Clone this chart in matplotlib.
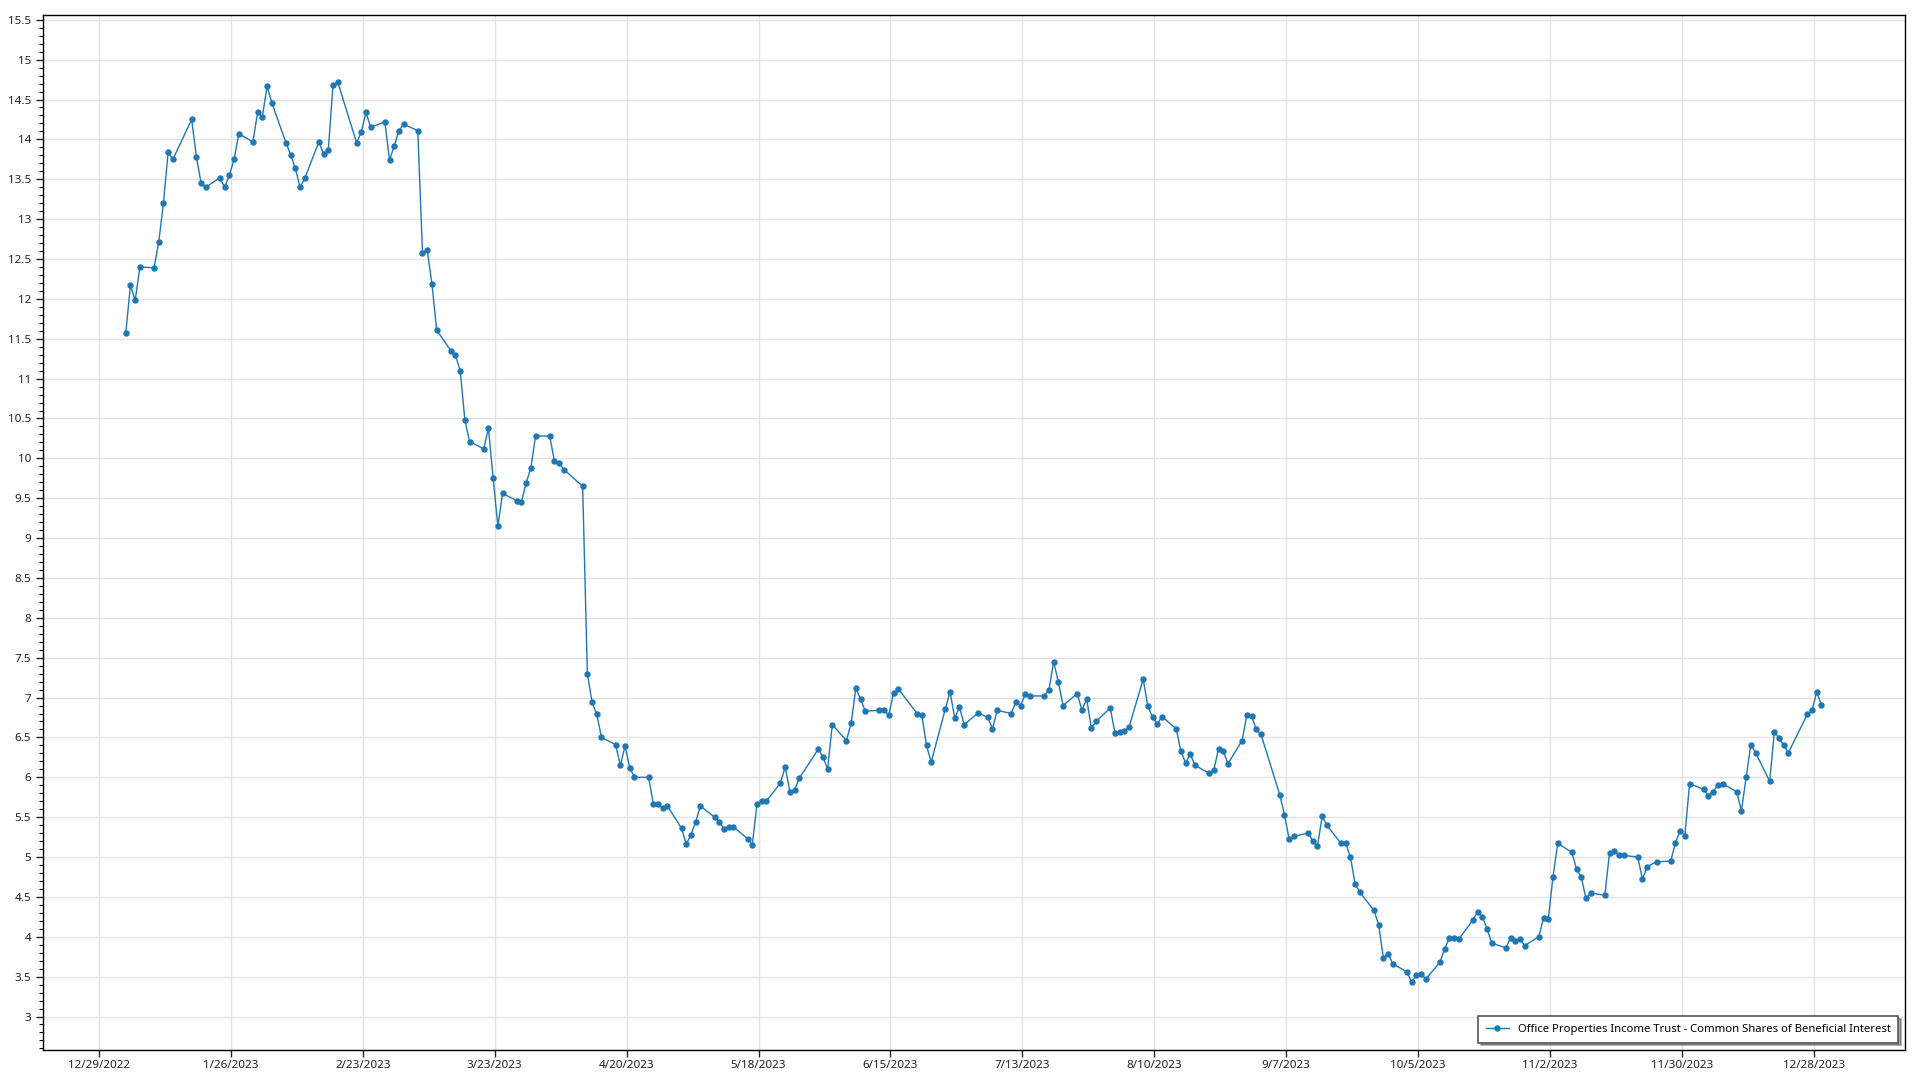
import numpy as np
import pandas as pd
import matplotlib
matplotlib.use("Agg")
import matplotlib.pyplot as plt
import matplotlib.dates as mdates
from matplotlib.ticker import MultipleLocator, FuncFormatter

# Закриття торгових днів 2023 року, по місяцях
jan = [11.57, 12.17, 11.98, 12.40, 12.39, 12.71, 13.20, 13.84, 13.75, 14.25,
       13.78, 13.45, 13.40, 13.52, 13.40, 13.55, 13.75, 14.07, 13.97, 14.34]
feb = [14.28, 14.67, 14.46, 13.96, 13.81, 13.64, 13.40, 13.51, 13.97, 13.82,
       13.87, 14.68, 14.72, 13.96, 14.09, 14.34, 14.15, 14.22, 13.74]
mar = [13.92, 14.11, 14.19, 14.11, 12.58, 12.61, 12.19, 11.61, 11.35, 11.29,
       11.10, 10.48, 10.21, 10.12, 10.38, 9.75, 9.15, 9.56, 9.47, 9.45,
       9.69, 9.88, 10.28]
apr = [10.28, 9.97, 9.94, 9.86, 9.65, 7.30, 6.94, 6.79, 6.50, 6.41,
       6.15, 6.39, 6.12, 6.00, 6.00, 5.67, 5.66, 5.62, 5.64]
may = [5.36, 5.16, 5.28, 5.44, 5.64, 5.50, 5.44, 5.35, 5.38, 5.38,
       5.23, 5.15, 5.66, 5.70, 5.70, 5.93, 6.13, 5.82, 5.84, 5.99,
       6.35, 6.26]
jun = [6.10, 6.66, 6.46, 6.68, 7.12, 6.98, 6.83, 6.84, 6.84, 6.78,
       7.06, 7.11, 6.80, 6.78, 6.40, 6.19, 6.86, 7.07, 6.74, 6.88, 6.66]
jul = [6.81, 6.75, 6.61, 6.84, 6.80, 6.95, 6.90, 7.05, 7.02, 7.02,
       7.10, 7.45, 7.19, 6.90, 7.05, 6.84, 6.98, 6.62, 6.70, 6.87]
aug = [6.56, 6.57, 6.58, 6.63, 7.23, 6.89, 6.75, 6.67, 6.76, 6.61,
       6.33, 6.18, 6.29, 6.15, 6.05, 6.09, 6.36, 6.33, 6.17, 6.46,
       6.78, 6.77, 6.60]
sep = [6.54, 5.78, 5.53, 5.22, 5.26, 5.30, 5.20, 5.14, 5.51, 5.40,
       5.17, 5.17, 5.00, 4.66, 4.56, 4.33, 4.15, 3.73, 3.79, 3.66]
oct_ = [3.56, 3.43, 3.52, 3.53, 3.47, 3.68, 3.85, 3.98, 3.98, 3.97,
        4.21, 4.31, 4.25, 4.10, 3.92, 3.86, 3.99, 3.95, 3.97, 3.89,
        4.00, 4.24]
nov = [4.22, 4.75, 5.17, 5.06, 4.85, 4.75, 4.48, 4.55, 4.52, 5.05,
       5.08, 5.02, 5.02, 5.00, 4.72, 4.88, 4.94, 4.95, 5.18, 5.33, 5.27]
dec = [5.92, 5.85, 5.77, 5.82, 5.90, 5.92, 5.82, 5.58, 6.00, 6.41,
       6.31, 5.95, 6.57, 6.49, 6.40, 6.31, 6.79, 6.84, 7.07, 6.91]

# Біржові вихідні NYSE 2023
holidays = ["2023-01-02", "2023-01-16", "2023-02-20", "2023-04-07", "2023-05-29",
            "2023-06-19", "2023-07-04", "2023-09-04", "2023-11-23", "2023-12-25"]

series_name = "Office Properties Income Trust - Common Shares of Beneficial Interest"

prices = jan + feb + mar + apr + may + jun + jul + aug + sep + oct_ + nov + dec
dates = pd.bdate_range("2023-01-03", "2023-12-29", freq="C", holidays=holidays)
dates = dates + pd.Timedelta(hours=16)  # час закриття

plt.rcParams['font.family'] = ['Noto Sans', 'DejaVu Sans']

fig = plt.figure(figsize=(19.2, 10.8), dpi=100)
ax = fig.add_axes([43 / 1920, 1 - 1050 / 1080, (1905 - 43) / 1920, (1050 - 15) / 1080])

color = '#1f77b4'
ax.plot(dates, prices, '-o', color=color, linewidth=1, markersize=4.6,
        markeredgewidth=0, label=series_name)

# Осі
ax.set_ylim(2.58, 15.56)
ax.set_xlim(pd.Timestamp("2022-12-29") - pd.Timedelta(days=11.9),
            pd.Timestamp("2023-12-28") + pd.Timedelta(days=19.4))

ticks = pd.date_range("2022-12-29", "2023-12-28", freq="28D")
ax.set_xticks(ticks)
ax.set_xticklabels([f"{d.month}/{d.day}/{d.year}" for d in ticks])

ax.yaxis.set_major_locator(MultipleLocator(0.5))
ax.yaxis.set_minor_locator(MultipleLocator(0.1))
ax.yaxis.set_major_formatter(FuncFormatter(lambda v, p: f"{v:g}"))

ax.grid(True, which='major', color='#e3e3e3', linewidth=1)
ax.set_axisbelow(True)
ax.tick_params(axis='both', which='major', labelsize=8.4, colors='#222222',
               length=5, width=1, direction='out')
ax.tick_params(axis='x', which='major', pad=2)
ax.tick_params(axis='y', which='minor', length=3, width=0.8)
for s in ax.spines.values():
    s.set_color('#000000')
    s.set_linewidth(1)

leg = ax.legend(loc='lower right', fontsize=8.1, frameon=True, fancybox=False,
                shadow=True, borderpad=0.7, handlelength=2.0,
                bbox_to_anchor=(0.9994, 0.0016))
leg.get_frame().set_edgecolor('#555555')
leg.get_frame().set_linewidth(1.2)

fig.savefig("out.png", dpi=100)
